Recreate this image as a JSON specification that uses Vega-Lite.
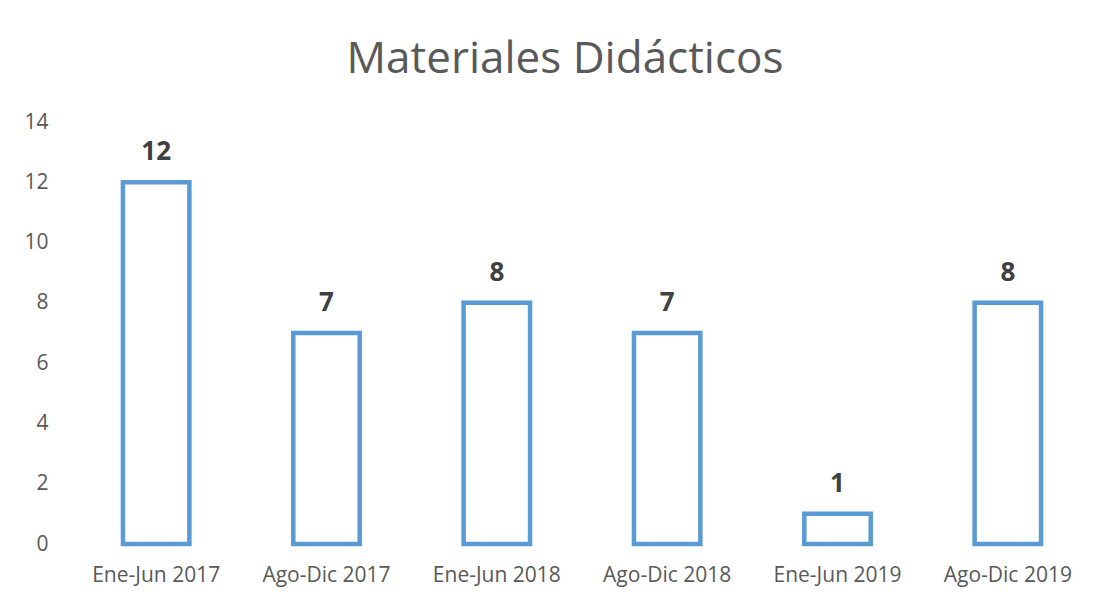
{
  "$schema": "https://vega.github.io/schema/vega-lite/v6.json",
  "width": 1022,
  "height": 422,
  "autosize": {"type": "none"},
  "padding": {"left": 71, "top": 122, "right": 21, "bottom": 55},
  "background": "white",
  "title": {
    "text": "Materiales Didácticos",
    "font": "Open Sans",
    "fontSize": 44,
    "fontWeight": "normal",
    "color": "#595959",
    "anchor": "middle",
    "baseline": "alphabetic",
    "offset": 44,
    "dx": -17,
    "dy": 50
  },
  "config": {
    "view": {"stroke": null},
    "font": "Open Sans"
  },
  "data": {
    "values": [
      {"periodo": "Ene-Jun 2017", "valor": 12},
      {"periodo": "Ago-Dic 2017", "valor": 7},
      {"periodo": "Ene-Jun 2018", "valor": 8},
      {"periodo": "Ago-Dic 2018", "valor": 7},
      {"periodo": "Ene-Jun 2019", "valor": 1},
      {"periodo": "Ago-Dic 2019", "valor": 8}
    ]
  },
  "encoding": {
    "x": {
      "field": "periodo",
      "type": "nominal",
      "sort": null,
      "scale": {"paddingInner": 0.61, "paddingOuter": 0.305},
      "axis": {
        "title": null,
        "labelAngle": 0,
        "labelFontSize": 21,
        "labelColor": "#595959",
        "ticks": false,
        "domain": false,
        "labelPadding": 20
      }
    },
    "y": {
      "field": "valor",
      "type": "quantitative",
      "scale": {"domain": [0, 14]},
      "axis": {
        "title": null,
        "values": [0, 2, 4, 6, 8, 10, 12, 14],
        "grid": false,
        "domain": false,
        "ticks": false,
        "labelFontSize": 21,
        "labelColor": "#595959",
        "labelPadding": 23
      }
    }
  },
  "layer": [
    {
      "mark": {"type": "bar", "fill": "white", "stroke": "#5B9BD5", "strokeWidth": 4.5}
    },
    {
      "mark": {"type": "text", "dy": -30, "fontSize": 26, "fontWeight": "bold", "color": "#404040"},
      "encoding": {"text": {"field": "valor", "type": "quantitative"}}
    }
  ]
}
